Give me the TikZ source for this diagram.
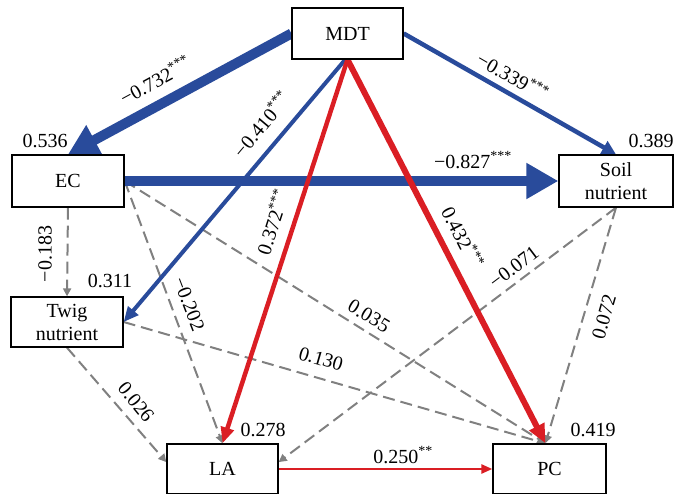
\documentclass[tikz,border=0pt]{standalone}
\usepackage{fontspec}
\setmainfont{Liberation Serif}
\usetikzlibrary{arrows.meta,backgrounds}
\definecolor{pblue}{RGB}{41,75,155}
\definecolor{pred}{RGB}{218,30,36}
\definecolor{pgray}{RGB}{128,128,128}
\begin{document}
\begin{tikzpicture}[x=1pt,y=-1pt,
  box/.style={draw=black,fill=white,line width=1.3pt,inner sep=0pt,align=center,
    font=\fontsize{20}{23}\selectfont},
  lab/.style={inner sep=0pt,font=\fontsize{20}{23}\selectfont},
  gr/.style={pgray,line width=2pt,dash pattern=on 12pt off 6pt,
    -{Triangle[length=8pt,width=8pt]}},
  bl/.style={pblue},
  rd/.style={pred}]
\useasboundingbox (0,0) rectangle (674,494);
% boxes
\node[box,minimum width=111pt,minimum height=51pt] (MDT) at (347.5,33.5) {MDT};
\node[box,minimum width=112pt,minimum height=52pt] (EC) at (68,181) {EC};
\node[box,minimum width=114pt,minimum height=52pt] (Soil) at (616,181) {Soil\\nutrient};
\node[box,minimum width=112pt,minimum height=50pt] (Twig) at (67,322) {Twig\\nutrient};
\node[box,minimum width=111pt,minimum height=50pt] (LA) at (222.5,469) {LA};
\node[box,minimum width=113pt,minimum height=50pt] (PC) at (549.5,469) {PC};
% connectors
\begin{scope}[on background layer]
\draw[gr] (EC.south) -- (Twig.north);
\draw[gr] (EC.east) -- (LA.north);
\draw[gr] (EC.east) -- (PC.99);
\draw[gr] (Twig.east) -- (PC.99);
\draw[gr] (Twig.south) -- (LA.173);
\draw[gr] (Soil.south) -- (LA.7);
\draw[gr] (Soil.south) -- (PC.99);
\draw[bl,line width=10pt,-{Triangle[length=30pt,width=32pt]}] (MDT.west) -- (EC.north);
\draw[bl,line width=10pt,-{Triangle[length=32pt,width=34pt]}] (EC.east) -- (Soil.west);
\draw[bl,line width=4.5pt,-{Triangle[length=14pt,width=14pt]}] (MDT.east) -- (Soil.north);
\draw[bl,line width=4pt,-{Triangle[length=15pt,width=13pt]}] (MDT.265) -- (Twig.east);
\draw[rd,line width=4.5pt,-{Triangle[length=16pt,width=13pt]}] (MDT.south) -- (LA.north);
\draw[rd,line width=6pt,-{Triangle[length=19pt,width=16pt]}] (MDT.south) -- (PC.99);
\draw[rd,line width=2.5pt,-{Triangle[length=11pt,width=9pt]}] (LA.east) -- (PC.west);
\end{scope}
% path coefficients
\node[lab,rotate=28.5] (l1) at (155,80) {−0.732\textsuperscript{***}};
\node[lab,rotate=50] (l2) at (261,124) {−0.410\textsuperscript{***}};
\node[lab,rotate=72] (l3) at (272,222) {0.372\textsuperscript{***}};
\node[lab,rotate=-30] (l4) at (513,76) {−0.339\textsuperscript{***}};
\node[lab] (l5) at (473,160) {−0.827\textsuperscript{***}};
\node[lab,rotate=-63] (l6) at (463,237) {0.432\textsuperscript{***}};
\node[lab,rotate=37] (l7) at (514,267) {−0.071};
\node[lab,rotate=74] (l8) at (604,317) {0.072};
\node[lab,rotate=-31] (l9) at (369,316) {0.035};
\node[lab,rotate=-16] (l10) at (321,359) {0.130};
\node[lab,rotate=90] (l11) at (45,254) {−0.183};
\node[lab,rotate=-69] (l12) at (189,304) {−0.202};
\node[lab,rotate=-51] (l13) at (136,402) {0.026};
\node[lab] (l14) at (403,455) {0.250\textsuperscript{**}};
% R squared
\node[lab] (r1) at (45,141) {0.536};
\node[lab] (r2) at (651,141) {0.389};
\node[lab] (r3) at (110,281) {0.311};
\node[lab] (r4) at (263,430) {0.278};
\node[lab] (r5) at (593,430) {0.419};
\end{tikzpicture}
\end{document}
